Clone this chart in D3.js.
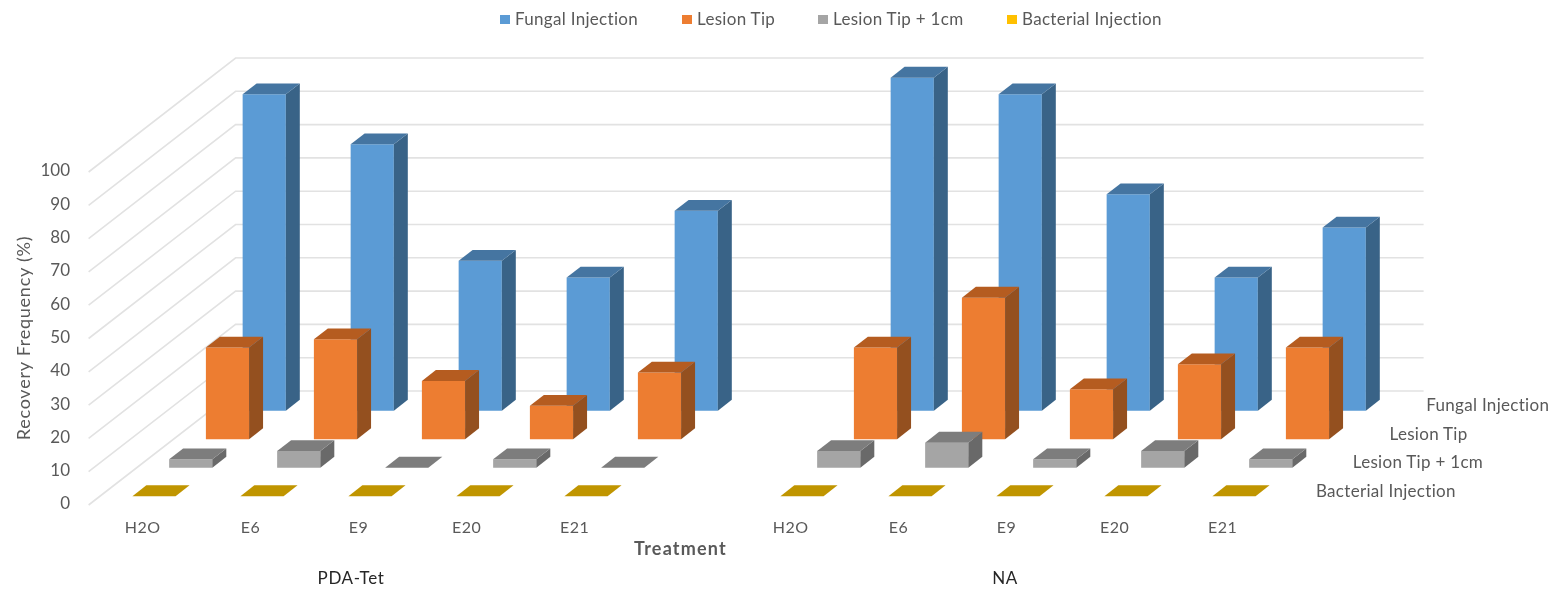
<!DOCTYPE html>
<html>
<head>
<meta charset="utf-8">
<script src="https://cdn.jsdelivr.net/npm/d3@7"></script>
<style>
  html, body { margin: 0; background: #fff; }
  svg { display: block; filter: blur(0.55px); }
  text { font-family: Lato, "Open Sans", sans-serif; fill: #595959; }
</style>
</head>
<body>
<svg width="1557" height="590"></svg>
<script>
const groups = ["PDA-Tet", "NA"];
const treatments = ["H2O", "E6", "E9", "E20", "E21"];
const seriesNames = ["Fungal Injection", "Lesion Tip", "Lesion Tip + 1cm", "Bacterial Injection"];

// values run PDA-Tet first, then NA
const fungal = [95, 80, 45, 40, 60, 100, 95, 65, 40, 55];
const lesionTip = [27.5, 30, 17.5, 10, 20, 27.5, 42.5, 15, 22.5, 27.5];
const lesionTip1cm = [2.5, 5, 0, 2.5, 0, 5, 7.5, 2.5, 5, 2.5];
const bacterial = [0, 0, 0, 0, 0, 0, 0, 0, 0, 0];
const seriesValues = [fungal, lesionTip, lesionTip1cm, bacterial];

const frontColors = ["#5b9bd5", "#ed7d31", "#a5a5a5", "#ffc000"];
const sideColors = ["#396387", "#94501f", "#696969", "#a07d00"];
const topColors = ["#4575a1", "#b55c20", "#7d7d7d", "#c09500"];

const svg = d3.select("svg");

// fake 3D: floor corner, then how far the floor runs back
const originX = 88.6;
const originY = 505;
const depthX = 147;
const depthY = 114;
const wallWidth = 1188;

const slots = d3.range(11); // 5 treatments, blank, 5 treatments
const x = d3.scaleBand().domain(slots).range([0, wallWidth]).paddingInner(0.6).paddingOuter(0.3);
const y = d3.scaleLinear().domain([0, 100]).range([originY, originY - 333]);
const z = d3.scaleBand().domain(seriesNames.slice().reverse()).range([0, 1]).paddingInner(0.62).paddingOuter(0.31);

function project(px, value, depth) {
  return [originX + px + depth * depthX, y(value) - depth * depthY];
}

function poly(points, fill) {
  svg.append("polygon")
    .attr("points", points.map(p => p.join(",")).join(" "))
    .attr("fill", fill);
}

// gridlines on left and back walls
y.ticks(10).forEach(t => {
  const a = project(0, t, 0);
  const b = project(0, t, 1);
  const c = project(wallWidth, t, 1);
  svg.append("polyline")
    .attr("points", [a, b, c].map(p => p.join(",")).join(" "))
    .attr("fill", "none")
    .attr("stroke", "#e2e2e2")
    .attr("stroke-width", 1.6);
});

// back row first so nearer bars sit on top
seriesNames.forEach((name, s) => {
  const z0 = z(name);
  const z1 = z0 + z.bandwidth();
  seriesValues[s].forEach((v, i) => {
    const slot = i < treatments.length ? i : i + 1;
    const x0 = x(slot);
    const x1 = x0 + x.bandwidth();
    if (v > 0) {
      poly([project(x0, 0, z0), project(x1, 0, z0), project(x1, v, z0), project(x0, v, z0)], frontColors[s]);
      poly([project(x1, 0, z0), project(x1, 0, z1), project(x1, v, z1), project(x1, v, z0)], sideColors[s]);
    }
    poly([project(x0, v, z0), project(x1, v, z0), project(x1, v, z1), project(x0, v, z1)], topColors[s]);
  });
});

// value axis
const yAxis = svg.append("g")
  .attr("transform", "translate(70,-1.5)")
  .call(d3.axisLeft(y).ticks(10).tickSize(0).tickPadding(0));
yAxis.select(".domain").remove();
yAxis.selectAll("text").style("font-size", "17px").style("fill", "#595959");

// treatment axis
const xAxis = svg.append("g")
  .attr("transform", `translate(${originX},522)`)
  .call(d3.axisBottom(x).tickSize(0).tickPadding(0).tickFormat(d => d === 5 ? "" : treatments[d % 6]));
xAxis.select(".domain").remove();
xAxis.selectAll("text").style("font-size", "16px").style("letter-spacing", "0.5px").style("fill", "#595959");

// series labels along the floor edge
seriesNames.forEach(name => {
  const zc = z(name) + z.bandwidth() / 2;
  const p = project(wallWidth, 0, zc);
  svg.append("text")
    .attr("x", p[0] + 21)
    .attr("y", p[1] + 6)
    .style("font-size", "17px")
    .style("letter-spacing", "0.3px")
    .text(name);
});

svg.append("text")
  .attr("transform", "translate(30,338) rotate(-90)")
  .attr("text-anchor", "middle")
  .style("font-size", "18px")
  .style("letter-spacing", "0.75px")
  .text("Recovery Frequency (%)");

svg.append("text")
  .attr("x", 680.5).attr("y", 554.5)
  .attr("text-anchor", "middle")
  .style("font-size", "18px")
  .style("font-weight", "bold")
  .style("letter-spacing", "1.2px")
  .text("Treatment");

groups.forEach((g, i) => {
  svg.append("text")
    .attr("x", i === 0 ? 351 : 1005)
    .attr("y", 584)
    .attr("text-anchor", "middle")
    .style("font-size", "17px")
    .style("letter-spacing", "0.6px")
    .style("fill", "#262626")
    .text(g);
});

// legend
const legendX = [500, 682, 818, 1007];
seriesNames.forEach((name, s) => {
  svg.append("rect")
    .attr("x", legendX[s]).attr("y", 15)
    .attr("width", 10).attr("height", 9)
    .attr("fill", frontColors[s]);
  svg.append("text")
    .attr("x", legendX[s] + 15).attr("y", 25)
    .style("font-size", "17px")
    .style("letter-spacing", "0.3px")
    .text(name);
});
</script>
</body>
</html>
